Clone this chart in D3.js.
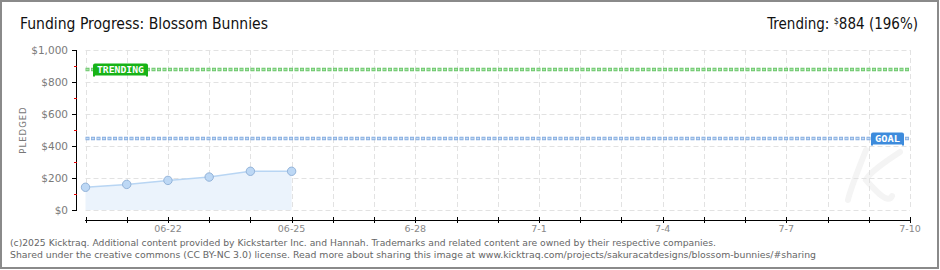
<!DOCTYPE html>
<html><head><meta charset="utf-8">
<script src="https://cdn.jsdelivr.net/npm/d3@7"></script>
<style>body{margin:0;background:#fff}svg{display:block}</style>
</head><body>
<svg id="c" width="940" height="270"></svg>
<script>
const dates = ["2025-06-20","2025-06-21","2025-06-22","2025-06-23","2025-06-24","2025-06-25"];
const pledged = [142, 160, 185, 206, 242, 242];
const goal = 450;
const trending = 884;
const trendingPct = 196;
const yTicks = [0, 200, 400, 600, 800, 1000];
const yMinorTicks = [100, 300, 500, 700, 900];
const xLabelDates = ["2025-06-22","2025-06-25","2025-06-28","2025-07-01","2025-07-04","2025-07-07","2025-07-10"];
const xLabels = ["06-22","06-25","6-28","7-1","7-4","7-7","7-10"];
const xStart = "2025-06-20", xEnd = "2025-07-10";

const parse = d3.utcParse("%Y-%m-%d");
const svg = d3.select("#c");
const x = d3.scaleUtc().domain([parse(xStart), parse(xEnd)]).range([85.5, 910]);
const y = d3.scaleLinear().domain([0, 1000]).range([210, 50]);
const days = d3.utcDay.range(parse(xStart), d3.utcDay.offset(parse(xEnd), 1));

// border
svg.append("rect").attr("x",1).attr("y",1).attr("width",937).attr("height",267)
  .attr("fill","#fff").attr("stroke","#8a8a8a").attr("stroke-width",2);

// watermark (decorative)
svg.append("path").attr("fill","none").attr("stroke","#f4f4f4").attr("stroke-width",6)
  .attr("stroke-linecap","round")
  .attr("d","M866,150 C858,170 850,190 848,200 M900,152 C880,165 868,175 866,180 C875,190 888,205 892,196");

// grid
const grid = svg.append("g").attr("stroke","#e2e2e2").attr("stroke-dasharray","5,3").attr("stroke-width",1);
grid.selectAll("line.h").data(yTicks).join("line")
  .attr("x1",85.5).attr("x2",910).attr("y1",d=>Math.round(y(d))+0.5).attr("y2",d=>Math.round(y(d))+0.5);
grid.selectAll("line.v").data(days).join("line").attr("class","v")
  .attr("x1",d=>Math.round(x(d))+0.5).attr("x2",d=>Math.round(x(d))+0.5).attr("y1",50).attr("y2",210);

// area + line + points
const pts = dates.map((d,i)=>({d:parse(d), v:pledged[i]}));
svg.append("path").datum(pts).attr("fill","#ebf3fc")
  .attr("d", d3.area().x(p=>x(p.d)).y0(y(0)).y1(p=>y(p.v)));
svg.append("path").datum(pts).attr("fill","none").attr("stroke","#b8d5f3").attr("stroke-width",1.5)
  .attr("d", d3.line().x(p=>x(p.d)).y(p=>y(p.v)));
svg.selectAll("circle.p").data(pts).join("circle")
  .attr("cx",p=>x(p.d)).attr("cy",p=>y(p.v)).attr("r",4.2)
  .attr("fill","#bdd8f5").attr("stroke","#93b3d9").attr("stroke-width",1);

// goal & trending lines
function refLine(v, fill, edge){
  const yy = Math.round(y(v))+0.5;
  svg.append("line").attr("x1",85.5).attr("x2",910).attr("y1",yy).attr("y2",yy)
    .attr("stroke",edge).attr("stroke-width",3.5).attr("stroke-dasharray","4,1.5");
  svg.append("line").attr("x1",86.2).attr("x2",910).attr("y1",yy).attr("y2",yy)
    .attr("stroke",fill).attr("stroke-width",1.5).attr("stroke-dasharray","2.5,3");
  return yy;
}
const ty = refLine(trending, "#a8e6a8", "#6cc66c");
const gy = refLine(goal, "#c4daf3", "#86ade0");

function badge(x0, x1, yc, color, label){
  const g = svg.append("g");
  g.append("rect").attr("x",x0).attr("y",yc-6).attr("width",x1-x0).attr("height",12)
    .attr("rx",2).attr("fill",color);
  g.append("rect").attr("x",x0).attr("y",yc+4).attr("width",2).attr("height",3).attr("fill",color);
  g.append("rect").attr("x",x1-2).attr("y",yc+4).attr("width",2).attr("height",3).attr("fill",color);
  g.append("text").attr("x",(x0+x1)/2).attr("y",yc+3.5).attr("text-anchor","middle")
    .attr("font-family","DejaVu Sans Mono").attr("font-size",9.5).attr("font-weight","bold")
    .attr("fill","#fff").attr("textLength",x1-x0-8).attr("lengthAdjust","spacingAndGlyphs").text(label);
}
badge(93, 148, ty, "#17b317", "TRENDING");
badge(871, 904, gy, "#3d8bdc", "GOAL");

// y axis
const ya = svg.append("g");
ya.append("line").attr("x1",76.5).attr("x2",76.5).attr("y1",50).attr("y2",210.5).attr("stroke","#000");
ya.selectAll("line.t").data(yTicks).join("line").attr("class","t")
  .attr("x1",72).attr("x2",77).attr("y1",d=>Math.round(y(d))+0.5).attr("y2",d=>Math.round(y(d))+0.5).attr("stroke","#000");
ya.selectAll("line.m").data(yMinorTicks).join("line").attr("class","m")
  .attr("x1",74).attr("x2",77).attr("y1",d=>Math.round(y(d))+0.5).attr("y2",d=>Math.round(y(d))+0.5).attr("stroke","#e00000");
ya.selectAll("text").data(yTicks).join("text")
  .attr("x",68).attr("y",d=>y(d)+4).attr("text-anchor","end")
  .attr("font-family","DejaVu Sans").attr("font-size",10.5).attr("fill","#7a7a7a")
  .text(d=>"$"+d3.format(",")(d));
svg.append("text").attr("transform","translate(26,130) rotate(-90)").attr("text-anchor","middle")
  .attr("font-family","DejaVu Sans").attr("font-size",8.5).attr("fill","#777")
  .attr("letter-spacing",1).text("PLEDGED");

// x axis
const xa = svg.append("g");
xa.append("line").attr("x1",85).attr("x2",910.5).attr("y1",220.5).attr("y2",220.5).attr("stroke","#000");
xa.selectAll("line.t").data(days).join("line")
  .attr("x1",d=>Math.round(x(d))+0.5).attr("x2",d=>Math.round(x(d))+0.5).attr("y1",217).attr("y2",223).attr("stroke","#000");
xa.selectAll("text").data(xLabelDates).join("text")
  .attr("x",d=>x(parse(d))).attr("y",232).attr("text-anchor","middle")
  .attr("font-family","DejaVu Sans").attr("font-size",9.5).attr("fill","#888")
  .text((d,i)=>xLabels[i]);

// titles
svg.append("text").attr("x",20).attr("y",29).attr("font-family","DejaVu Sans Condensed, DejaVu Sans")
  .attr("font-size",15).attr("fill","#111").attr("textLength",248).attr("lengthAdjust","spacingAndGlyphs")
  .text("Funding Progress: Blossom Bunnies");
const tr = svg.append("text").attr("x",918).attr("y",29).attr("text-anchor","end")
  .attr("font-family","DejaVu Sans Condensed, DejaVu Sans").attr("font-size",15).attr("fill","#111");
tr.append("tspan").text("Trending: ");
tr.append("tspan").attr("font-size",9).attr("dy",-5).text("$");
tr.append("tspan").attr("dy",5).text(trending + " (" + trendingPct + "%)");

// footer
const f = svg.append("g").attr("font-family","DejaVu Sans").attr("font-size",9).attr("fill","#666");
f.append("text").attr("x",10).attr("y",246).attr("textLength",706).attr("lengthAdjust","spacingAndGlyphs")
  .text("(c)2025 Kicktraq. Additional content provided by Kickstarter Inc. and Hannah. Trademarks and related content are owned by their respective companies.");
f.append("text").attr("x",10).attr("y",257.5).attr("textLength",806).attr("lengthAdjust","spacingAndGlyphs")
  .text("Shared under the creative commons (CC BY-NC 3.0) license. Read more about sharing this image at www.kicktraq.com/projects/sakuracatdesigns/blossom-bunnies/#sharing");
</script>
</body></html>
